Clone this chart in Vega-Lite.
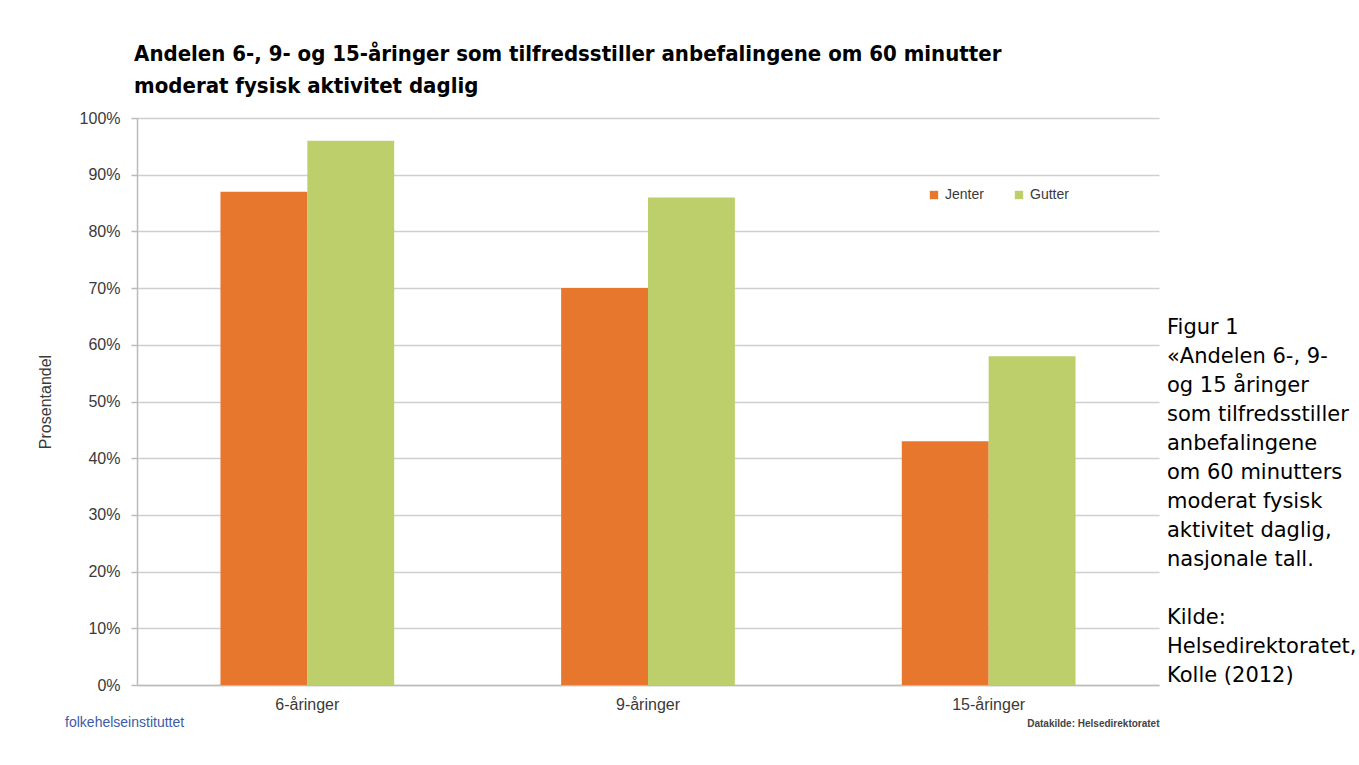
{
  "$schema": "https://vega.github.io/schema/vega-lite/v6.json",
  "background": "white",
  "padding": {"left": 37, "top": 43, "right": 0, "bottom": 0},
  "title": {
    "text": ["Andelen 6-, 9- og 15-åringer som tilfredsstiller anbefalingene om 60 minutter", "moderat fysisk aktivitet daglig"],
    "anchor": "start",
    "font": "DejaVu Sans Condensed",
    "fontWeight": "bold",
    "fontSize": 22,
    "lineHeight": 32,
    "color": "#000000",
    "dx": 97,
    "offset": 12
  },
  "spacing": 8,
  "hconcat": [
    {
      "width": 1022,
      "height": 567,
      "data": {
        "values": [
          {"alder": "6-åringer", "kjonn": "Jenter", "andel": 0.87},
          {"alder": "6-åringer", "kjonn": "Gutter", "andel": 0.96},
          {"alder": "9-åringer", "kjonn": "Jenter", "andel": 0.70},
          {"alder": "9-åringer", "kjonn": "Gutter", "andel": 0.86},
          {"alder": "15-åringer", "kjonn": "Jenter", "andel": 0.43},
          {"alder": "15-åringer", "kjonn": "Gutter", "andel": 0.58}
        ]
      },
      "title": {
        "text": "folkehelseinstituttet",
        "orient": "bottom",
        "anchor": "start",
        "font": "Liberation Sans",
        "fontSize": 14,
        "fontWeight": "normal",
        "color": "#3B5BA9",
        "dx": 28,
        "dy": -16
      },
      "mark": {"type": "bar"},
      "encoding": {
        "x": {
          "field": "alder",
          "type": "nominal",
          "sort": ["6-åringer", "9-åringer", "15-åringer"],
          "scale": {"paddingInner": 0.49, "paddingOuter": 0.245},
          "axis": {
            "labelAngle": 0,
            "ticks": false,
            "grid": false,
            "domainColor": "#bbbbbb",
            "domainWidth": 1.5,
            "labelFont": "Liberation Sans",
            "labelFontSize": 16,
            "labelColor": "#3a3a3a",
            "labelPadding": 11,
            "title": "Datakilde: Helsedirektoratet",
            "titleAnchor": "end",
            "titleFont": "Liberation Sans",
            "titleFontSize": 10,
            "titleFontWeight": "bold",
            "titleColor": "#444444",
            "titlePadding": 6
          }
        },
        "xOffset": {
          "field": "kjonn",
          "sort": ["Jenter", "Gutter"],
          "scale": {"paddingInner": 0, "paddingOuter": 0}
        },
        "y": {
          "field": "andel",
          "type": "quantitative",
          "scale": {"domain": [0, 1], "nice": false},
          "axis": {
            "format": ".0%",
            "values": [0, 0.1, 0.2, 0.3, 0.4, 0.5, 0.6, 0.7, 0.8, 0.9, 1],
            "labelFont": "Liberation Sans",
            "labelFontSize": 16,
            "labelColor": "#3a3a3a",
            "labelPadding": 11,
            "tickSize": 6,
            "tickColor": "#bbbbbb",
            "tickWidth": 1.5,
            "domainColor": "#bbbbbb",
            "domainWidth": 1.5,
            "grid": true,
            "gridColor": "#cfcfcf",
            "gridWidth": 1.5,
            "title": "Prosentandel",
            "titleFont": "Liberation Sans",
            "titleFontSize": 16,
            "titleFontWeight": "normal",
            "titleColor": "#3a3a3a",
            "titlePadding": 26
          }
        },
        "color": {
          "field": "kjonn",
          "type": "nominal",
          "scale": {"domain": ["Jenter", "Gutter"], "range": ["#E8772E", "#BDCF6B"]},
          "legend": {
            "orient": "none",
            "legendX": 790,
            "legendY": 70,
            "direction": "horizontal",
            "title": null,
            "symbolType": "square",
            "symbolSize": 70,
            "symbolStrokeWidth": 0,
            "labelFont": "Liberation Sans",
            "labelFontSize": 14,
            "labelColor": "#3a3a3a",
            "labelOffset": 4,
            "columnPadding": 28
          }
        }
      }
    },
    {
      "width": 190,
      "height": 567,
      "data": {
        "values": [
          {"line": 1, "text": "Figur 1"},
          {"line": 2, "text": "«Andelen 6-, 9-"},
          {"line": 3, "text": "og 15 åringer"},
          {"line": 4, "text": "som tilfredsstiller"},
          {"line": 5, "text": "anbefalingene"},
          {"line": 6, "text": "om 60 minutters"},
          {"line": 7, "text": "moderat fysisk"},
          {"line": 8, "text": "aktivitet daglig,"},
          {"line": 9, "text": "nasjonale tall."},
          {"line": 11, "text": "Kilde:"},
          {"line": 12, "text": "Helsedirektoratet,"},
          {"line": 13, "text": "Kolle (2012)"}
        ]
      },
      "mark": {"type": "text", "align": "left", "baseline": "middle", "font": "DejaVu Sans", "fontSize": 21, "color": "#000000"},
      "encoding": {
        "x": {"datum": 0, "type": "quantitative", "scale": {"domain": [0, 1]}, "axis": null},
        "y": {
          "field": "line",
          "type": "ordinal",
          "scale": {"domain": [1, 2, 3, 4, 5, 6, 7, 8, 9, 10, 11, 12, 13], "range": [210, 558], "padding": 0},
          "axis": null
        },
        "text": {"field": "text"}
      }
    }
  ],
  "config": {"view": {"stroke": null}}
}
